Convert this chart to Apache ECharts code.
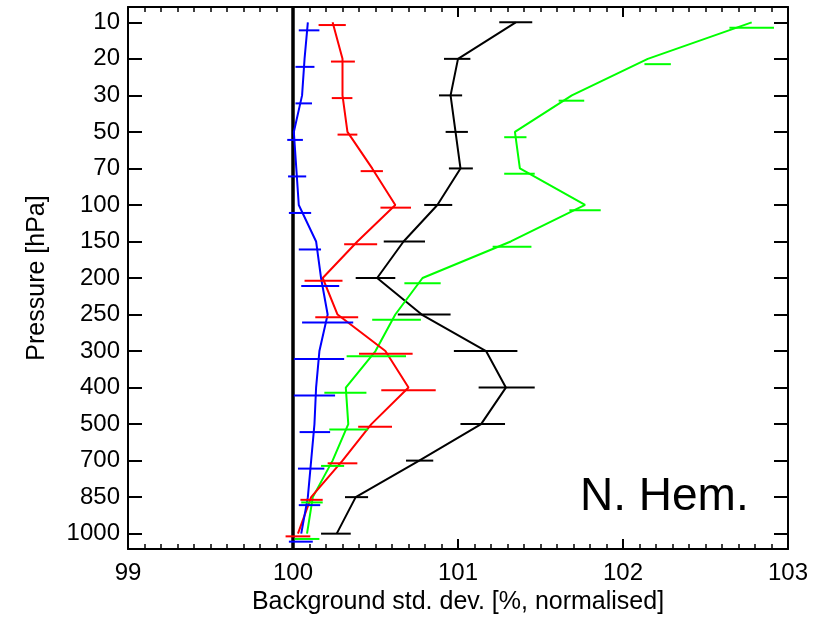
<!DOCTYPE html>
<html>
<head>
<meta charset="utf-8">
<script src="https://cdn.jsdelivr.net/npm/echarts@6/dist/echarts.min.js"></script>
<style>
html,body{margin:0;padding:0;background:#fff;}
#chart{width:831px;height:620px;}
</style>
</head>
<body>
<div id="chart"></div>
<script>
// Pressure levels (top to bottom)
const levels = ['10','20','30','50','70','100','150','200','250','300','400','500','700','850','1000'];
const xTicks = [99, 100, 101, 102, 103];

// Blue series
const blueVal = [100.09,100.07,100.055,100.005,100.02,100.035,100.14,100.17,100.21,100.16,100.14,100.13,100.11,100.09,100.05];
const blueLo  = [100.035,100.015,100.015,99.965,99.97,99.975,100.035,100.05,100.055,100.005,100.005,100.04,100.03,100.035,99.975];
const blueHi  = [100.16,100.13,100.115,100.06,100.08,100.11,100.17,100.28,100.365,100.31,100.255,100.225,100.19,100.165,100.12];

// Red series
const redVal = [100.24,100.30,100.30,100.33,100.48,100.62,100.39,100.18,100.27,100.56,100.70,100.475,100.30,100.11,100.03];
const redLo  = [100.155,100.23,100.235,100.27,100.41,100.53,100.31,100.07,100.135,100.40,100.535,100.395,100.21,100.045,99.955];
const redHi  = [100.32,100.375,100.36,100.39,100.545,100.715,100.51,100.30,100.395,100.725,100.865,100.60,100.39,100.18,100.105];

// Black series
const blackVal = [101.35,101.00,100.955,100.985,101.015,100.875,100.67,100.51,100.78,101.17,101.29,101.14,100.765,100.38,100.265];
const blackLo  = [101.25,100.915,100.885,100.925,100.945,100.795,100.55,100.38,100.635,100.975,101.125,101.015,100.685,100.315,100.17];
const blackHi  = [101.45,101.075,101.025,101.06,101.09,100.965,100.80,100.62,100.955,101.36,101.465,101.285,100.85,100.455,100.35];

// Green series
const greenVal = [102.78,102.15,101.69,101.345,101.375,101.77,101.32,100.785,100.62,100.50,100.32,100.335,100.24,100.12,100.085];
const greenLo  = [102.645,102.13,101.61,101.28,101.28,101.675,101.21,100.675,100.48,100.325,100.19,100.22,100.17,100.05,100.01];
const greenHi  = [102.915,102.29,101.765,101.415,101.465,101.865,101.445,100.895,100.775,100.685,100.445,100.455,100.31,100.18,100.16];

const refValue = 100;
const panelLabel = 'N. Hem.';

const FONT = '"Liberation Sans", Arial, Helvetica, sans-serif';
const idx = levels.map((_, i) => i);

function lineSeries(vals, color) {
  return {
    type: 'line', data: vals.map((v, i) => [v, i]), symbol: 'none',
    lineStyle: {color: color, width: 2}, z: 3, animation: false, silent: true
  };
}
function errSeries(lo, hi, color, offsetPx) {
  return {
    type: 'custom', z: 4, animation: false, silent: true,
    data: lo.map((l, i) => [l, hi[i], i]),
    renderItem: function (params, api) {
      const a = api.coord([api.value(0), api.value(2)]);
      const b = api.coord([api.value(1), api.value(2)]);
      const y = a[1] + offsetPx;
      return {type: 'line', shape: {x1: a[0], y1: y, x2: b[0], y2: y},
              style: {stroke: color, lineWidth: 2}};
    }
  };
}

const yAxisBase = {
  type: 'value', inverse: true, min: -0.42, max: 14.42,
  axisLine: {show: true, onZero: false, lineStyle: {color: '#000', width: 2}},
  axisTick: {show: true, inside: true, length: 14, customValues: idx, lineStyle: {color: '#000', width: 2}},
  splitLine: {show: false}
};
const xAxisBase = {
  type: 'value', min: 99, max: 103, interval: 1,
  axisLine: {show: true, onZero: false, lineStyle: {color: '#000', width: 2}},
  axisTick: {show: true, inside: true, length: 10, lineStyle: {color: '#000', width: 2}},
  minorTick: {show: true, splitNumber: 10, length: 5, lineStyle: {color: '#000', width: 1.5}},
  splitLine: {show: false}, minorSplitLine: {show: false}
};

const chart = echarts.init(document.getElementById('chart'), null, {renderer: 'canvas'});
chart.setOption({
  backgroundColor: '#fff',
  animation: false,
  grid: {left: 128, right: 43, top: 7, bottom: 70, containLabel: false},
  xAxis: [
    Object.assign({}, xAxisBase, {
      position: 'bottom',
      axisLabel: {show: true, fontSize: 24, color: '#000', fontFamily: FONT, margin: 12,
                  customValues: xTicks, formatter: v => String(v)},
      name: 'Background std. dev. [%, normalised]', nameLocation: 'middle', nameGap: 41,
      nameTextStyle: {fontSize: 25, color: '#000', fontFamily: FONT}
    }),
    Object.assign({}, xAxisBase, {position: 'top', axisLabel: {show: false}})
  ],
  yAxis: [
    Object.assign({}, yAxisBase, {
      position: 'left',
      axisLabel: {show: true, fontSize: 24, color: '#000', fontFamily: FONT, margin: 8,
                  customValues: idx, formatter: v => levels[Math.round(v)]},
      name: 'Pressure [hPa]', nameLocation: 'middle', nameGap: 78,
      nameTextStyle: {fontSize: 25, color: '#000', fontFamily: FONT}
    }),
    Object.assign({}, yAxisBase, {position: 'right', axisLabel: {show: false}})
  ],
  graphic: [{
    type: 'text', left: 580, top: 474, z: 10,
    style: {text: panelLabel, fontSize: 46, fill: '#000', fontFamily: FONT}
  }],
  series: [
    {
      type: 'line', data: [], z: 1, silent: true,
      markLine: {silent: true, symbol: ['none', 'none'], label: {show: false},
                 lineStyle: {color: '#000', width: 3.5, type: 'solid'},
                 data: [{xAxis: refValue}], z: 1, animation: false}
    },
    lineSeries(blackVal, '#000000'),
    lineSeries(greenVal, '#00ff00'),
    lineSeries(redVal, '#ff0000'),
    lineSeries(blueVal, '#0000ff'),
    errSeries(blackLo, blackHi, '#000000', 0),
    errSeries(greenLo, greenHi, '#00ff00', 5.3),
    errSeries(redLo, redHi, '#ff0000', 2.7),
    errSeries(blueLo, blueHi, '#0000ff', 8)
  ]
});
</script>
</body>
</html>
